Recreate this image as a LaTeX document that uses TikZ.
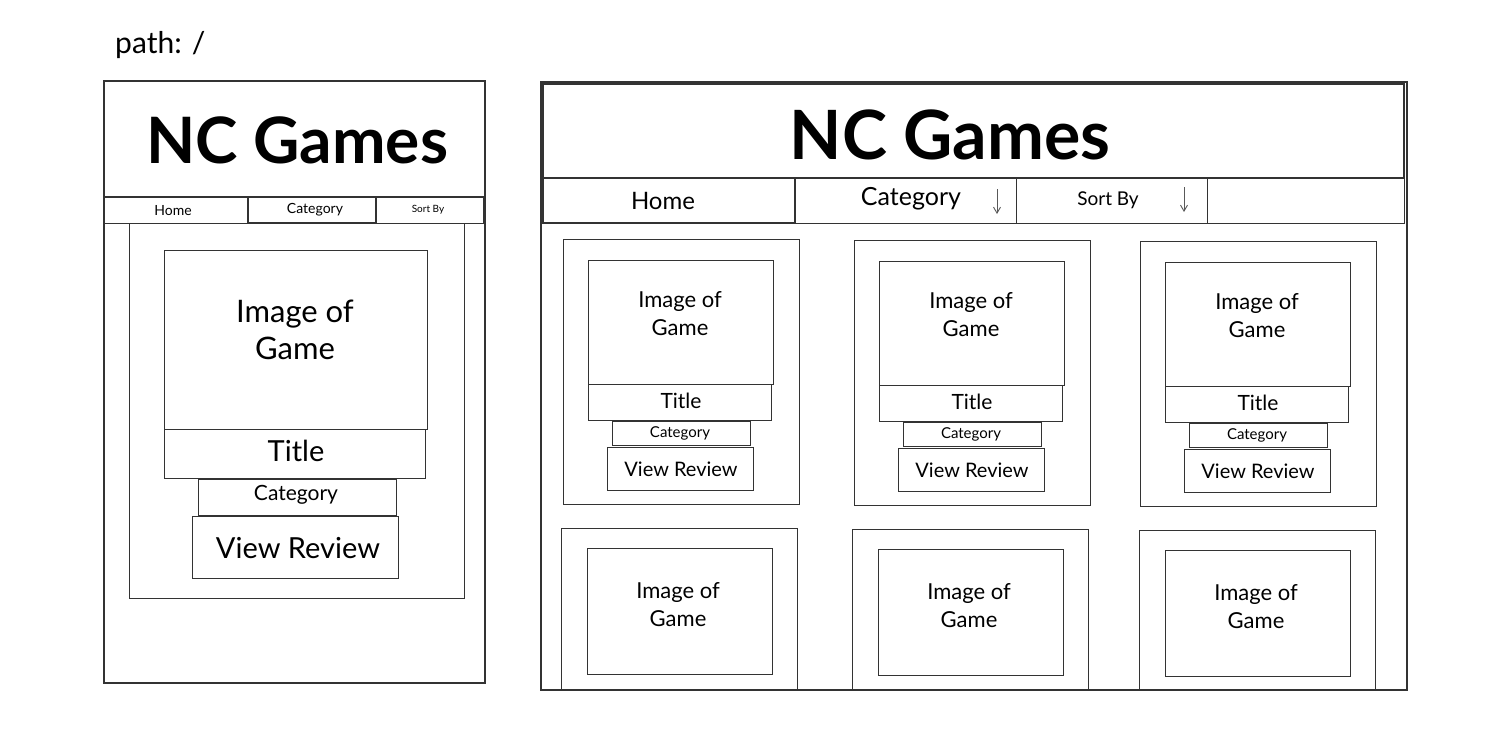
\documentclass[tikz,border=0pt]{standalone}
\usepackage{fontspec}
\setmainfont{Lato}
\usetikzlibrary{arrows.meta}

\begin{document}
\begin{tikzpicture}[x=1pt,y=-1pt,
    box/.style={draw=black!80,line width=1.3pt},
    thinbox/.style={draw=black!80,line width=1pt},
    ddarrow/.style={draw=black!65,line width=0.9pt,-{Straight Barb[length=6pt,width=7pt]}},
    lbl/.style={inner sep=0pt,align=center,text=black}]

        \useasboundingbox (0,0) rectangle (1494,740);

        % route label
        \node[lbl,anchor=west,font=\fontsize{30}{32}\selectfont] (path) at (115,45) {path: /};

        % ---- mobile layout ----
        \draw[box] (104,81) rectangle (485,683);   % page
        \draw[box] (104,81) rectangle (485,197);   % header
        \node[lbl,font=\fontsize{64}{68}\selectfont\bfseries] (mtitle) at (297,140) {NC Games};

        % nav bar
        \draw[thinbox] (104,197) rectangle (248,223);
        \draw[box] (248,197) rectangle (376,223);
        \draw[thinbox] (376,197) rectangle (483,223);
        \node[lbl,font=\fontsize{14}{16}\selectfont] (mhome) at (173,211) {Home};
        \node[lbl,font=\fontsize{14}{16}\selectfont] (mcat) at (315,210) {Category};
        \node[lbl,font=\fontsize{10}{12}\selectfont] (msort) at (428,210) {Sort By};

        % game card
        \draw[thinbox] (129,223) rectangle (464,598);
        \draw[thinbox] (164,250) rectangle (427,429);
        \node[lbl,font=\fontsize{31}{37}\selectfont] (mimg) at (295,330) {Image of\\Game};
        \draw[thinbox] (164,429) rectangle (425,478);
        \node[lbl,font=\fontsize{29}{31}\selectfont] (mname) at (296,451) {Title};
        \draw[thinbox] (198,479) rectangle (396,515);
        \node[lbl,font=\fontsize{21}{23}\selectfont] (mcard) at (296,495) {Category};
        \draw[thinbox] (192,516) rectangle (398,578);
        \node[lbl,font=\fontsize{29}{31}\selectfont] (mreview) at (298,548) {View Review};

        % ---- desktop layout ----
        \draw[box] (541,82) rectangle (1407,690);   % page
        \draw[box] (543,84) rectangle (1404,178);   % header
        \node[lbl,font=\fontsize{68}{72}\selectfont\bfseries] (dtitle) at (950,135) {NC Games};

        % nav bar
        \draw[box] (543,178) rectangle (795,223);
        \draw[thinbox] (795,178) rectangle (1016,223);
        \draw[thinbox] (1016,178) rectangle (1207,223);
        \draw[thinbox] (1207,178) rectangle (1404,223);
        \node[lbl,font=\fontsize{24}{26}\selectfont] (dhome) at (663,201) {Home};
        \node[lbl,font=\fontsize{25}{27}\selectfont] (dcat) at (911,199) {Category};
        \node[lbl,font=\fontsize{19}{21}\selectfont] (dsort) at (1108,200) {Sort By};
        \draw[ddarrow] (997,189) -- (997,214);
        \draw[ddarrow] (1184,187) -- (1184,212);

        % first row of cards
        \foreach \dx/\dy [count=\i] in {0/0, 291/1, 577/2} {
            \draw[thinbox] (563+\dx,239+\dy) rectangle ++(236,265);
            \draw[thinbox] (588+\dx,260+\dy) rectangle ++(185,124);
            \node[lbl,font=\fontsize{22}{28}\selectfont] (img\i) at (680+\dx,314+\dy) {Image of\\Game};
            \draw[thinbox] (588+\dx,384+\dy) rectangle ++(183,36);
            \node[lbl,font=\fontsize{21}{23}\selectfont] (name\i) at (681+\dx,401+\dy) {Title};
            \draw[thinbox] (612+\dx,421+\dy) rectangle ++(138,24);
            \node[lbl,font=\fontsize{15}{17}\selectfont] (cat\i) at (680+\dx,433+\dy) {Category};
            \draw[thinbox] (607+\dx,447+\dy) rectangle ++(146,43);
            \node[lbl,font=\fontsize{20}{22}\selectfont] (review\i) at (681+\dx,469+\dy) {View Review};
        }

        % second row of cards (cut off at the page bottom)
        \foreach \dx/\dy [count=\i] in {0/0, 291/1, 578/2} {
            \draw[thinbox] (561+\dx,528+\dy) rectangle (797+\dx,690);
            \draw[thinbox] (587+\dx,548+\dy) rectangle ++(185,126);
            \node[lbl,font=\fontsize{22}{28}\selectfont] (imgb\i) at (678+\dx,605+\dy) {Image of\\Game};
        }

\end{tikzpicture}
\end{document}
